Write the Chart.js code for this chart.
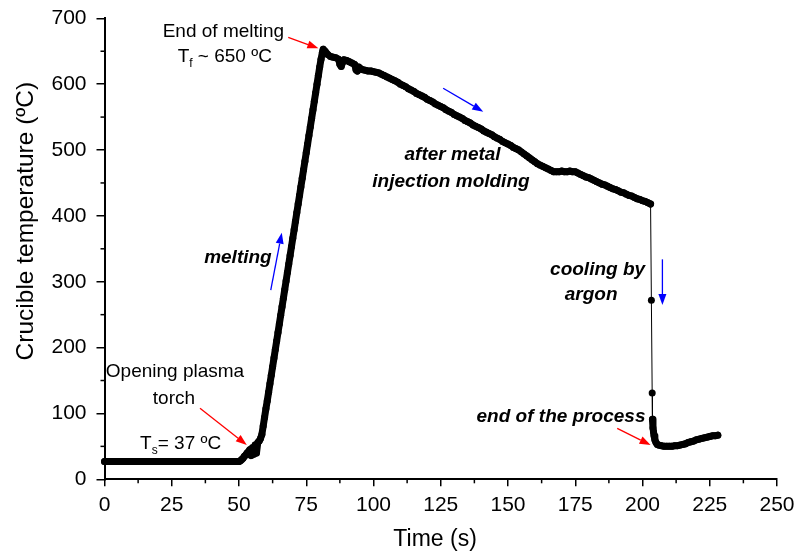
<!DOCTYPE html>
<html>
<head>
<meta charset="utf-8">
<script src="https://cdn.jsdelivr.net/npm/chart.js@4.4.1/dist/chart.umd.min.js"></script>
<style>
  html, body { margin: 0; padding: 0; background: #fff; }
  #wrap { width: 794px; height: 552px; }
</style>
</head>
<body>
<div id="wrap"><canvas id="c" width="794" height="552"></canvas></div>
<script>
// ---- Data (time in s, temperature in ºC) ----
const flatTime = [0,1,2,3,4,5,6,7,8,9,10,11,12,13,14,15,16,17,18,19,20,21,22,23,24,25,26,27,28,29,30,31,32,33,34,35,36,37,38,39,40,41,42,43,44,45,46,47,48,49,50];
const flatTemp = [27,27,27,27,27,27,27,27,27,27,27,27,27,27,27,27,27,27,27,27,27,27,27,27,27,27,27,27,27,27,27,27,27,27,27,27,27,27,27,27,27,27,27,27,27,27,27,27,27,27,27];

const onsetTime = [50.5,51,51.5,52,52.5,53,53.5,54,54.5,55,55.5,56,56.5,57,57.5,58];
const onsetTemp = [28,30,32,35,37,40,42,45,36,48,38,52,40,56,58,62];

const riseTime = [58.5,59,59.5,60,60.5,61,61.5,62,62.5,63,63.5,64,64.5,65,65.5,66,66.5,67,67.5,68,68.5,69,69.5,70,70.5,71,71.5,72,72.5,73,73.5,74,74.5,75,75.5,76,76.5,77,77.5,78,78.5,79,79.5,80,80.5,81,81.3];
const riseTemp = [68,81,94,107,119,132,145,158,171,184,197,210,223,236,249,262,275,288,301,314,327,340,353,366,379,392,405,418,431,444,457,470,483,496,509,522,535,548,561,574,587,600,613,626,638,648,653];

const moldTime = [82,83,84,85,86,87,87.5,88,88.5,89,90,91,92,93,93.5,94,94.5,95,96,97,98,99,100,101,102,103,104,105,106,107,108,109,110,111,112,113,114,115,116,117,118,119,120,121,122,123,124,125,126,127,128,129,130,131,132,133,134,135,136,137,138,139,140,141,142,143,144,145,146,147,148,149,150,151,152,153,154,155,156,157,158,159,160,161,162,163,164,165,166,167,168,169,170,171,172,173,174,175,176,177,178,179,180,181,182,183,184,185,186,187,188,189,190,191,192,193,194,195,196,197,198,199,200,201,202,203];
const moldTemp = [650,645,642,641,640,638,630,627,633,637,636,634,632,630,622,620,626,624,622,621,620,620,619,618,617,615,613,611,609,607,605,603,600,598,596,593,591,589,586,584,582,580,577,575,573,570,568,566,564,561,559,557,554,552,550,548,545,543,541,538,536,534,532,529,527,525,523,520,518,516,513,511,509,507,504,502,500,497,494,491,488,485,482,479,477,475,473,471,469,467,467,467,468,467,467,468,467,467,465,463,461,459,458,456,454,452,450,448,447,445,443,441,440,438,436,435,433,431,430,428,426,425,423,422,420,418];

const coolTime = [203.3,203.6,203.7,203.9,204.1,204.3,204.6,205,205.5,206,207,208,209,210,211,212,213,214,215,216,217,218,219,220,221,222,223,224,225,226,227,228];
const coolTemp = [272,131,91,78,72,66,60,56,53,52,51,50,50,50,50,51,51,52,53,54,56,57,58,60,61,62,63,64,65,66,66,67];

const xTicks = { min: 0, max: 250, step: 25, minor: 12.5 };
const yTicks = { min: 0, max: 700, step: 100, minor: 50 };

// ---- Build points ----
const times = [].concat(flatTime, onsetTime, riseTime, moldTime, coolTime);
const temps = [].concat(flatTemp, onsetTemp, riseTemp, moldTemp, coolTemp);
const points = times.map((t, i) => ({ x: t, y: temps[i] }));

// ---- Annotations (data units) ----
const FONT = "'Liberation Sans', Arial, Helvetica, sans-serif";
const notes = [
  { parts: [["End of melting", 0]], x: 44.2, y: 671.6, style: "" },
  { parts: [["T", 0], ["f", 1], [" ~ 650 ºC", 0]], x: 44.7, y: 633.7, style: "" },
  { parts: [["Opening plasma", 0]], x: 26.2, y: 155.5, style: "" },
  { parts: [["torch", 0]], x: 25.8, y: 114.3, style: "" },
  { parts: [["T", 0], ["s", 1], ["= 37 ºC", 0]], x: 28.3, y: 45.9, style: "" },
  { parts: [["melting", 0]], x: 49.6, y: 328, style: "italic bold " },
  { parts: [["after metal", 0]], x: 129.4, y: 484.8, style: "italic bold " },
  { parts: [["injection molding", 0]], x: 128.8, y: 443.8, style: "italic bold " },
  { parts: [["cooling by", 0]], x: 183.3, y: 310.2, style: "italic bold " },
  { parts: [["argon", 0]], x: 180.9, y: 272.2, style: "italic bold " },
  { parts: [["end of the process", 0]], x: 169.7, y: 87.5, style: "italic bold " }
];
const arrows = [
  { from: [68.3, 671], to: [79.5, 654.4], color: "#ff0000" },
  { from: [35.5, 107.8], to: [52.9, 52.1], color: "#ff0000" },
  { from: [61.8, 287.4], to: [65.9, 374.4], color: "#0000ff" },
  { from: [125.9, 593.7], to: [140.8, 558.2], color: "#0000ff" },
  { from: [207.4, 334], to: [207.4, 264.6], color: "#0000ff" },
  { from: [190.6, 77.4], to: [203.0, 52.1], color: "#ff0000" }
];

const annoPlugin = {
  id: 'anno',
  afterDraw(chart) {
    const { ctx } = chart;
    const xs = chart.scales.x, ys = chart.scales.y;
    ctx.save();
    // minor ticks
    ctx.strokeStyle = '#000';
    ctx.lineWidth = 1.5;
    for (let v = xTicks.minor; v < xTicks.max; v += xTicks.step) {
      const px = xs.getPixelForValue(v);
      ctx.beginPath(); ctx.moveTo(px, ys.bottom); ctx.lineTo(px, ys.bottom + 4); ctx.stroke();
    }
    for (let v = yTicks.minor; v < yTicks.max; v += yTicks.step) {
      const py = ys.getPixelForValue(v);
      ctx.beginPath(); ctx.moveTo(xs.left, py); ctx.lineTo(xs.left - 4, py); ctx.stroke();
    }
    // arrows
    arrows.forEach(a => {
      const x1 = xs.getPixelForValue(a.from[0]), y1 = ys.getPixelForValue(a.from[1]);
      const x2 = xs.getPixelForValue(a.to[0]), y2 = ys.getPixelForValue(a.to[1]);
      const ang = Math.atan2(y2 - y1, x2 - x1);
      const hl = 11, hw = 4;
      const bx = x2 - hl * Math.cos(ang), by = y2 - hl * Math.sin(ang);
      ctx.strokeStyle = a.color; ctx.fillStyle = a.color; ctx.lineWidth = 1.3;
      ctx.beginPath(); ctx.moveTo(x1, y1); ctx.lineTo(bx, by); ctx.stroke();
      ctx.beginPath();
      ctx.moveTo(x2, y2);
      ctx.lineTo(bx + hw * Math.sin(ang), by - hw * Math.cos(ang));
      ctx.lineTo(bx - hw * Math.sin(ang), by + hw * Math.cos(ang));
      ctx.closePath(); ctx.fill();
    });
    // texts
    ctx.fillStyle = '#000';
    ctx.textBaseline = 'alphabetic';
    ctx.textAlign = 'left';
    notes.forEach(n => {
      let total = 0;
      const widths = n.parts.map(p => {
        ctx.font = n.style + (p[1] ? 12 : 19) + 'px ' + FONT;
        const w = ctx.measureText(p[0]).width; total += w; return w;
      });
      let cx = xs.getPixelForValue(n.x) - total / 2;
      const by = ys.getPixelForValue(n.y);
      n.parts.forEach((p, i) => {
        ctx.font = n.style + (p[1] ? 12 : 19) + 'px ' + FONT;
        ctx.fillText(p[0], cx, by + (p[1] ? 5 : 0));
        cx += widths[i];
      });
    });
    // axis titles
    ctx.font = '23px ' + FONT;
    ctx.textAlign = 'center';
    ctx.fillText('Time (s)', xs.getPixelForValue(122.9), ys.bottom + 67);
    ctx.save();
    ctx.font = '24.5px ' + FONT;
    ctx.translate(33, ys.getPixelForValue(392));
    ctx.rotate(-Math.PI / 2);
    ctx.fillText('Crucible temperature (ºC)', 0, 0);
    ctx.restore();
    ctx.restore();
  }
};

new Chart(document.getElementById('c'), {
  type: 'line',
  data: {
    datasets: [{
      data: points,
      borderColor: '#000',
      borderWidth: 1,
      borderJoinStyle: 'round',
      borderCapStyle: 'round',
      segment: {
        borderWidth: c => {
          const dx = c.p1.x - c.p0.x, dy = c.p1.y - c.p0.y;
          return Math.sqrt(dx * dx + dy * dy) < 20 ? 7 : 1;
        }
      },
      pointRadius: 3.5,
      pointBackgroundColor: '#000',
      pointBorderWidth: 0,
      pointHoverRadius: 3.5,
      tension: 0,
      clip: false
    }]
  },
  options: {
    responsive: false,
    animation: false,
    events: [],
    layout: { padding: { left: 0, right: 17, top: 18.3, bottom: 0 } },
    plugins: { legend: { display: false }, tooltip: { enabled: false } },
    scales: {
      x: {
        type: 'linear', min: xTicks.min, max: xTicks.max,
        ticks: { stepSize: xTicks.step, color: '#000', font: { family: FONT, size: 21 }, padding: 6, maxRotation: 0 },
        grid: { drawOnChartArea: false, drawTicks: true, tickLength: 7, color: '#000', lineWidth: 1.5 },
        border: { display: true, color: '#000', width: 2 },
        afterFit(s) { s.height = 72.7; s.paddingLeft = 0; s.paddingRight = 0; }
      },
      y: {
        min: yTicks.min, max: yTicks.max,
        ticks: { stepSize: yTicks.step, color: '#000', font: { family: FONT, size: 21 }, padding: 10 },
        grid: { drawOnChartArea: false, drawTicks: true, tickLength: 8, color: '#000', lineWidth: 1.5 },
        border: { display: true, color: '#000', width: 2 },
        afterFit(s) { s.width = 104.5; s.paddingTop = 0; s.paddingBottom = 0; }
      }
    }
  },
  plugins: [annoPlugin]
});
</script>
</body>
</html>
